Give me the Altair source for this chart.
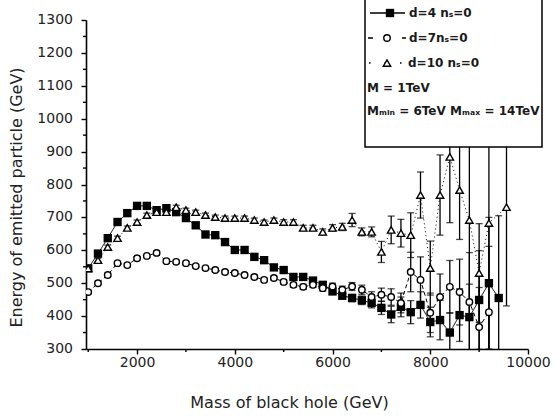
import altair as alt
import pandas as pd

# ---- data ----
x_d4 = [1000, 1200, 1400, 1600, 1800, 2000, 2200, 2400, 2600, 2800, 3000, 3200, 3400, 3600,
        3800, 4000, 4200, 4400, 4600, 4800, 5000, 5200, 5400, 5600, 5800, 6000, 6200, 6400,
        6600, 6800, 7000, 7200, 7400, 7600, 7800, 8000, 8200, 8400, 8600, 8800, 9000, 9200, 9400]
y_d4 = [545, 590, 637, 686, 713, 735, 735, 722, 728, 716, 698, 676, 648, 646,
        625, 601, 601, 580, 570, 548, 540, 519, 519, 508, 495, 475, 462, 455,
        448, 440, 425, 405, 428, 412, 434, 382, 388, 350, 403, 397, 449, 500, 455]
e_d4 = [6, 6, 6, 6, 6, 6, 6, 6, 6, 6, 6, 6, 6, 6,
        6, 6, 6, 6, 6, 6, 7, 7, 8, 8, 8, 9, 10, 11,
        13, 15, 20, 25, 30, 35, 40, 45, 60, 60, 80, 100, 150, 200, 250]

x_d7 = [1000, 1200, 1400, 1600, 1800, 2000, 2200, 2400, 2600, 2800, 3000, 3200, 3400, 3600,
        3800, 4000, 4200, 4400, 4600, 4800, 5000, 5200, 5400, 5600, 5800, 6000, 6200, 6400,
        6600, 6800, 7000, 7200, 7400, 7600, 7800, 8000, 8200, 8400, 8600, 8800, 9000, 9200]
y_d7 = [473, 500, 525, 561, 555, 576, 583, 592, 567, 565, 561, 552, 546, 540,
        534, 531, 525, 519, 510, 516, 504, 495, 489, 495, 485, 490, 480, 490,
        480, 458, 465, 458, 440, 534, 510, 410, 458, 489, 473, 443, 367, 412]
e_d7 = [5, 5, 5, 5, 5, 5, 5, 5, 5, 5, 5, 5, 5, 5,
        5, 5, 5, 6, 6, 6, 7, 7, 8, 8, 9, 10, 11, 12,
        14, 16, 20, 25, 30, 60, 70, 60, 70, 80, 100, 150, 120, 200]

x_d10 = [1000, 1200, 1400, 1600, 1800, 2000, 2200, 2400, 2600, 2800, 3000, 3200, 3400, 3600,
         3800, 4000, 4200, 4400, 4600, 4800, 5000, 5200, 5400, 5600, 5800, 6000, 6200, 6400,
         6600, 6800, 7000, 7200, 7400, 7600, 7800, 8000, 8200, 8400, 8600, 8800, 9000, 9200, 9560]
y_d10 = [545, 570, 610, 637, 668, 686, 707, 716, 716, 731, 722, 716, 707, 701,
         698, 698, 698, 692, 686, 692, 686, 686, 668, 668, 656, 668, 671, 692,
         656, 656, 595, 662, 652, 646, 768, 546, 768, 884, 783, 692, 531, 683, 731]
e_d10 = [6, 6, 6, 6, 6, 6, 6, 6, 6, 6, 6, 6, 6, 6,
         6, 6, 6, 6, 6, 6, 7, 7, 8, 8, 9, 10, 11, 20,
         12, 15, 32, 42, 42, 68, 70, 82, 122, 200, 150, 290, 150, 390, 300]

series_names = ["d=4", "d=7", "d=10"]

# axis tick values / labels
x_major = [2000, 4000, 6000, 8000, 10000]
x_minor = [1000, 3000, 5000, 7000, 9000]
y_major = [300, 400, 500, 600, 700, 800, 900, 1000, 1100, 1200, 1300]
y_labels = ["300", "400", "500", "600", "700", "800", "900", "1000", "1100", "1200", "1300"]
y_minor = [350, 450, 550, 650, 750, 850, 950, 1050, 1150, 1250]

rows = []
for name, xs, ys, es in [("d=4", x_d4, y_d4, e_d4), ("d=7", x_d7, y_d7, e_d7),
                         ("d=10", x_d10, y_d10, e_d10)]:
    for xv, yv, ev in zip(xs, ys, es):
        rows.append({"series": name, "mass": xv, "energy": yv,
                     "lo": yv - ev, "hi": yv + ev})
df = pd.DataFrame(rows)

FONT = "DejaVu Sans, Liberation Sans, Arial"

xscale = alt.Scale(domain=[955, 10000], nice=False, zero=False)
yscale = alt.Scale(domain=[300, 1300], nice=False, zero=False)

xaxis = alt.Axis(values=x_major, title="Mass of black hole (GeV)", tickSize=5,
                 grid=False, labelPadding=1, titlePadding=25, titleX=203,
                 labelFlush=False, labelOverlap=False, format="d")
yaxis = alt.Axis(values=y_major, title="Energy of emitted particle (GeV)", tickSize=5,
                 grid=False, labels=False, titlePadding=56, titleY=177)


def XE(field):
    return alt.X(field, scale=xscale, axis=xaxis)


def YE(field):
    return alt.Y(field, scale=yscale, axis=yaxis)


base = alt.Chart(df)

lines = base.mark_line(color="black", strokeWidth=1, clip=True).encode(
    x=XE("mass:Q"), y=YE("energy:Q"),
    strokeDash=alt.StrokeDash("series:N", scale=alt.Scale(domain=series_names,
                              range=[[1, 0], [4, 3], [1, 3]]), legend=None),
    detail="series:N",
)

# minor ticks and y tick labels drawn through the same scales
xmin_ticks = alt.Chart(pd.DataFrame({"v": x_minor})).mark_rule(
    color="black", strokeWidth=1.4).encode(x=XE("v:Q"), y=alt.value(329), y2=alt.value(332))
ymin_ticks = alt.Chart(pd.DataFrame({"v": y_minor})).mark_rule(
    color="black", strokeWidth=1.4).encode(y=YE("v:Q"), x=alt.value(-3), x2=alt.value(0))
ylab = alt.Chart(pd.DataFrame({"v": y_major, "t": y_labels})).mark_text(
    align="right", baseline="middle", font=FONT, fontSize=14, color="#222").encode(
    y=YE("v:Q"), x=alt.value(-13), text="t:N")

err = base.mark_rule(color="black", strokeWidth=1.3, clip=True).encode(
    x=XE("mass:Q"), y=YE("lo:Q"), y2="hi:Q")
cap_lo = base.mark_tick(color="black", orient="horizontal", size=7, thickness=1.3, clip=True).encode(
    x=XE("mass:Q"), y=YE("lo:Q"))
cap_hi = base.mark_tick(color="black", orient="horizontal", size=7, thickness=1.3, clip=True).encode(
    x=XE("mass:Q"), y=YE("hi:Q"))


def pts(name, **kw):
    return base.transform_filter(f"datum.series == '{name}'").mark_point(
        opacity=1, clip=True, **kw).encode(x=XE("mass:Q"), y=YE("energy:Q"))


sq = pts("d=4", shape="square", filled=True, color="black", size=70)
ci = pts("d=7", shape="circle", fill="white", stroke="black", strokeWidth=1.4, size=42, fillOpacity=1)
tr = pts("d=10", shape="triangle-up", fill="white", stroke="black", strokeWidth=1.4, size=55, fillOpacity=1)

# ---- hand-made legend box (plot coordinates in pixels) ----
one = alt.Chart(pd.DataFrame({"k": [0]}))
leg_box = one.mark_rect(fill="white", stroke="black", strokeWidth=1.5).encode(
    x=alt.value(279), x2=alt.value(456), y=alt.value(-25), y2=alt.value(127))
leg_l1 = one.mark_rule(color="black", strokeWidth=1.5).encode(
    x=alt.value(284), x2=alt.value(319), y=alt.value(-7))
leg_l2 = one.mark_rule(color="black", strokeWidth=1.5, strokeDash=[5, 12]).encode(
    x=alt.value(282), x2=alt.value(320), y=alt.value(18))
leg_l3 = one.mark_rule(color="black", strokeWidth=1.5, strokeDash=[1.5, 14]).encode(
    x=alt.value(283), x2=alt.value(320), y=alt.value(43))
leg_s1 = one.mark_point(shape="square", filled=True, color="black", size=70, opacity=1).encode(
    x=alt.value(304), y=alt.value(-7))
leg_s2 = one.mark_point(shape="circle", fill="white", stroke="black", strokeWidth=1.4, size=42,
                        opacity=1).encode(x=alt.value(301), y=alt.value(18))
leg_s3 = one.mark_point(shape="triangle-up", fill="white", stroke="black", strokeWidth=1.4, size=55,
                        opacity=1).encode(x=alt.value(301), y=alt.value(43))

legend_texts = ["d=4 nₛ=0", "d=7nₛ=0", "d=10 nₛ=0", "M = 1TeV", "Mₘᵢₙ = 6TeV  Mₘₐₓ = 14TeV"]
legend_x = [323, 323, 322, 281, 281]
legend_y = [-7, 18, 43, 68, 91]
leg_txt = []
for t, lx, ly in zip(legend_texts, legend_x, legend_y):
    leg_txt.append(one.mark_text(text=t, align="left", baseline="middle", font=FONT,
                                 fontSize=12, fontWeight="bold", color="#1a1a1a").encode(
        x=alt.value(lx), y=alt.value(ly)))

chart = alt.layer(lines, xmin_ticks, ymin_ticks, ylab, err, cap_lo, cap_hi, sq, ci, tr, leg_box,
                  leg_l1, leg_l2, leg_l3, leg_s1, leg_s2, leg_s3, *leg_txt).properties(
    width=442, height=329,
    autosize=alt.AutoSizeParams(type="none"),
    padding={"left": 86, "top": 20, "right": 28, "bottom": 69},
    background="white",
).configure_view(stroke=None).configure_axis(
    labelFont=FONT, titleFont=FONT, labelFontSize=14, titleFontSize=16,
    titleFontWeight="normal", labelColor="#222", titleColor="#222",
    domainColor="black", tickColor="black", domainWidth=1.6, tickWidth=1.4,
)

chart.save("out.html", embed_options={"renderer": "svg", "actions": False})
